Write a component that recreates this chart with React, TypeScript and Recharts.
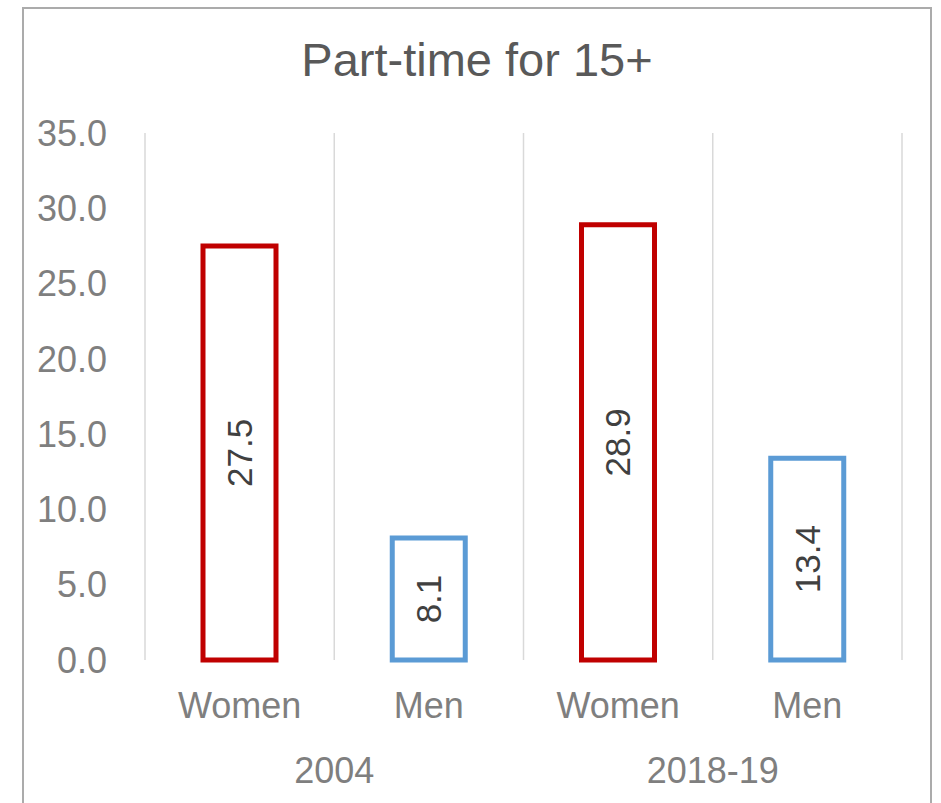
import { BarChart, Bar, XAxis, YAxis, CartesianGrid, Cell, LabelList } from "recharts";

const categories = ["Women", "Men", "Women", "Men"];
const groups = ["2004", "2004", "2018-19", "2018-19"];
const values = [27.5, 8.1, 28.9, 13.4];
const yTicks = [0, 5, 10, 15, 20, 25, 30, 35];

const COLORS: Record<string, string> = { Women: "#C00000", Men: "#5B9BD5" };
const FONT = "'Liberation Sans', Arial, sans-serif";

const data = categories.map((c, i) => ({ name: c, group: groups[i], value: values[i] }));

function CategoryTick(props: any) {
  const { x, y, payload, index, width, visibleTicksCount } = props;
  const step = width / visibleTicksCount;
  const showGroup = index === 0 || groups[index] !== groups[index - 1];
  return (
    <g>
      <text x={x} y={y} dy={50} textAnchor="middle" fill="#7F7F7F" fontSize={36} fontFamily={FONT}>
        {payload.value}
      </text>
      {showGroup && (
        <text x={x + step / 2} y={y} dy={115} textAnchor="middle" fill="#7F7F7F" fontSize={36} fontFamily={FONT}>
          {groups[index]}
        </text>
      )}
    </g>
  );
}

function ValueLabel(props: any) {
  const { x, y, width, height, value } = props;
  const cx = x + width / 2;
  const cy = y + height / 2;
  return (
    <text
      x={cx}
      y={cy}
      transform={`rotate(-90 ${cx} ${cy})`}
      textAnchor="middle"
      dominantBaseline="central"
      fill="#404040"
      fontSize={35}
      fontFamily={FONT}
    >
      {Number(value).toFixed(1)}
    </text>
  );
}

export default function App() {
  return (
    <div style={{ position: "absolute", left: 0, top: 0, width: 941, height: 803, background: "#fff", overflow: "hidden" }}>
      <div
        style={{
          position: "absolute",
          left: 22,
          top: 7,
          width: 906,
          height: 820,
          border: "2px solid #ABABAB",
        }}
      />
      <div
        style={{
          position: "absolute",
          left: 23,
          width: 908,
          top: 32,
          textAlign: "center",
          fontFamily: FONT,
          fontSize: 47,
          color: "#595959",
        }}
      >
        Part-time for 15+
      </div>
      <div style={{ position: "absolute", left: 0, top: 0 }}>
        <BarChart width={941} height={803} data={data} margin={{ top: 133, right: 39, left: 0, bottom: 0 }} barSize={73}>
          <CartesianGrid
            horizontal={false}
            stroke="#D9D9D9"
            strokeWidth={1.5}
            verticalCoordinatesGenerator={({ offset }: any) =>
              categories.map((_, i) => offset.left + (i * offset.width) / categories.length).concat(offset.left + offset.width)
            }
          />
          <XAxis
            dataKey="name"
            height={143}
            axisLine={false}
            tickLine={false}
            interval={0}
            tick={<CategoryTick />}
          />
          <YAxis
            width={145}
            domain={[0, 35]}
            ticks={yTicks}
            axisLine={false}
            tickLine={false}
            tickMargin={32}
            tickFormatter={(v) => Number(v).toFixed(1)}
            tick={{ fill: "#7F7F7F", fontSize: 36, fontFamily: FONT }}
          />
          <Bar dataKey="value" fill="#fff" strokeWidth={5} isAnimationActive={false}>
            {data.map((d, i) => (
              <Cell key={i} stroke={COLORS[d.name]} fill="#fff" />
            ))}
            <LabelList dataKey="value" content={<ValueLabel />} />
          </Bar>
        </BarChart>
      </div>
    </div>
  );
}
